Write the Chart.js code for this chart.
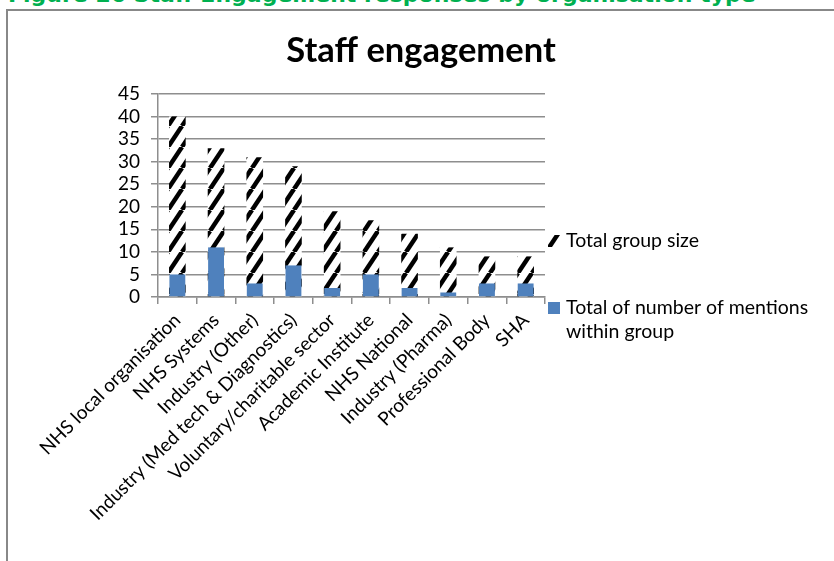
<!DOCTYPE html>
<html>
<head>
<meta charset="utf-8">
<title>Staff engagement</title>
<script src="https://cdn.jsdelivr.net/npm/chart.js@4.4.0/dist/chart.umd.min.js"></script>
<style>
  html, body { margin: 0; padding: 0; background: #fff; overflow: hidden; }
  #caption {
    position: absolute; left: 8px; top: -18px;
    font: bold 22px "DejaVu Sans", sans-serif; color: #00b050; white-space: nowrap;
  }
  #frame {
    position: absolute; left: 6px; top: 9px; width: 900px; height: 600px;
    border: 2px solid #888; box-sizing: border-box;
  }
  #wrap { position: absolute; left: 0; top: 0; width: 834px; height: 561px; }
</style>
</head>
<body>
<div id="caption">Figure 26 Staff Engagement responses by organisation type</div>
<div id="frame"></div>
<div id="wrap"><canvas id="chart"></canvas></div>
<script>
// organisation types along the x axis
const categories = [
  'NHS local organisation', 'NHS Systems', 'Industry (Other)',
  'Industry (Med tech & Diagnostics)', 'Voluntary/charitable sector',
  'Academic Institute', 'NHS National', 'Industry (Pharma)',
  'Professional Body', 'SHA'
];
const groupSize = [40, 33, 31, 29, 19, 17, 14, 11, 9, 9];
const mentions  = [5, 11, 3, 7, 2, 5, 2, 1, 3, 3];
const yMax = 45;
const yStep = 5;

const chartTitle = 'Staff engagement';
const seriesNames = ['Total group size', ['Total of number of mentions', 'within group']];
const blue = '#4f81bd';
const gridGrey = '#8e8e8e';
const font = 'Lato, "Open Sans", sans-serif';

const canvas = document.getElementById('chart');
const ctx = canvas.getContext('2d');

// wide upward diagonal hatch, black on white
function makeHatch() {
  const w = 14, h = 21;
  const tile = document.createElement('canvas');
  tile.width = w; tile.height = h;
  const g = tile.getContext('2d');
  g.fillStyle = '#fff';
  g.fillRect(0, 0, w, h);
  g.strokeStyle = '#000';
  g.lineWidth = 4.5;
  for (const dx of [-w, 0, w]) {
    g.beginPath();
    g.moveTo(dx, h);
    g.lineTo(dx + w, 0);
    g.stroke();
  }
  return ctx.createPattern(tile, 'repeat');
}
const hatch = makeHatch();

// title sits centred over the whole frame, not just the plot
const frameTitle = {
  id: 'frameTitle',
  afterDraw(chart) {
    const c = chart.ctx;
    c.save();
    c.font = 'bold 34.5px ' + font;
    c.fillStyle = '#000';
    c.textAlign = 'center';
    c.textBaseline = 'alphabetic';
    c.fillText(chartTitle, 421, 62);
    c.restore();
  }
};

// legend on the right, second label wraps over two lines
const sideLegend = {
  id: 'sideLegend',
  afterDraw(chart) {
    const c = chart.ctx;
    const x = chart.chartArea.right + 3;
    const items = [
      { fill: hatch, y: 241, text: seriesNames[0] },
      { fill: blue, y: 308, text: seriesNames[1] }
    ];
    c.save();
    c.font = '19.5px ' + font;
    c.textBaseline = 'middle';
    items.forEach(it => {
      c.fillStyle = it.fill;
      c.fillRect(x, it.y - 6, 12, 12);
      c.fillStyle = '#000';
      const lines = Array.isArray(it.text) ? it.text : [it.text];
      lines.forEach((t, i) => c.fillText(t, x + 18, it.y + i * 24));
    });
    c.restore();
  }
};

new Chart(ctx, {
  type: 'bar',
  data: {
    labels: categories,
    datasets: [
      {
        label: seriesNames[0],
        data: groupSize,
        backgroundColor: hatch,
        borderWidth: 0,
        grouped: false,
        order: 1,
        barPercentage: 0.43,
        categoryPercentage: 1
      },
      {
        label: seriesNames[1].join(' '),
        data: mentions,
        backgroundColor: blue,
        borderWidth: 0,
        grouped: false,
        order: 0,
        barPercentage: 0.41,
        categoryPercentage: 1
      }
    ]
  },
  options: {
    responsive: true,
    maintainAspectRatio: false,
    animation: false,
    layout: { padding: { left: 0, right: 289, top: 94, bottom: 0 } },
    plugins: {
      legend: { display: false },
      tooltip: { enabled: false },
      title: { display: false }
    },
    scales: {
      x: {
        offset: true,
        afterFit(s) { s.height = 264; },
        grid: { offset: true, drawOnChartArea: false, drawTicks: true, tickLength: 7, color: gridGrey, lineWidth: 1.5 },
        border: { display: true, color: gridGrey, width: 1.5 },
        ticks: {
          color: '#000', font: { family: font, size: 19 },
          minRotation: 45, maxRotation: 45, autoSkip: false, padding: 5
        }
      },
      y: {
        min: 0, max: yMax,
        afterFit(s) { s.width = 158; },
        grid: { color: gridGrey, lineWidth: 1.5, drawTicks: true, tickLength: 7 },
        border: { display: true, color: gridGrey, width: 1.5 },
        ticks: {
          stepSize: yStep, autoSkip: false, color: '#000',
          font: { family: font, size: 19, lineHeight: 1 }, padding: 11
        }
      }
    }
  },
  plugins: [frameTitle, sideLegend]
});
</script>
</body>
</html>
